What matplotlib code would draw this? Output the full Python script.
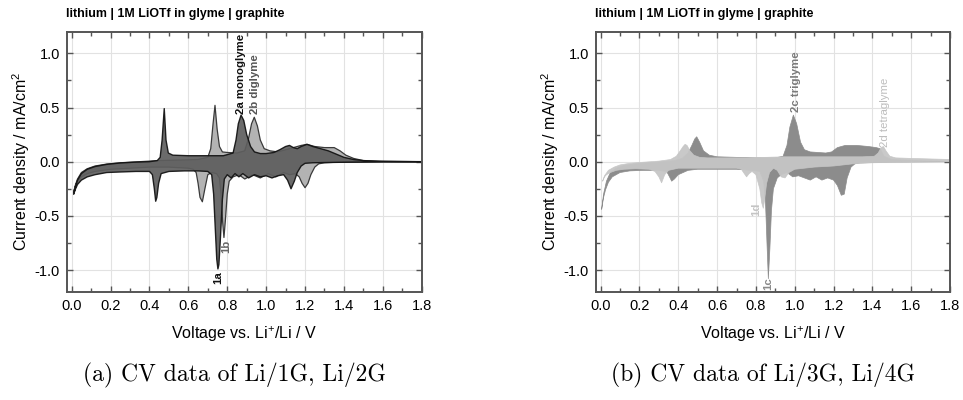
import matplotlib.pyplot as plt
from matplotlib.ticker import MultipleLocator

# --- CV data (V vs. Li+/Li, mA/cm2) ---
# monoglyme (1G): anodic / cathodic sweeps
g1_up_v = [0.01, 0.02, 0.03, 0.05, 0.08, 0.12, 0.18, 0.25, 0.32, 0.40, 0.44, 0.455, 0.465, 0.476, 0.485,
           0.497, 0.52, 0.60, 0.70, 0.78, 0.83, 0.845, 0.857, 0.871, 0.885, 0.90, 0.92, 0.94, 0.97, 1.00,
           1.04, 1.07, 1.10, 1.12, 1.14, 1.16, 1.18, 1.21, 1.24, 1.28, 1.32, 1.36, 1.40, 1.45, 1.50, 1.58,
           1.68, 1.80]
g1_up_i = [-0.30, -0.23, -0.17, -0.11, -0.07, -0.045, -0.025, -0.012, -0.005, 0.0, 0.01, 0.04, 0.20, 0.49,
           0.20, 0.08, 0.06, 0.055, 0.055, 0.055, 0.08, 0.20, 0.35, 0.43, 0.38, 0.25, 0.14, 0.09, 0.075, 0.075,
           0.085, 0.11, 0.14, 0.15, 0.13, 0.12, 0.14, 0.16, 0.14, 0.12, 0.10, 0.07, 0.04, 0.02, 0.01, 0.004,
           0.002, 0.0]
g1_dn_v = [1.80, 1.60, 1.40, 1.30, 1.24, 1.20, 1.18, 1.16, 1.145, 1.128, 1.11, 1.09, 1.06, 1.03, 1.00, 0.97,
           0.94, 0.91, 0.88, 0.86, 0.84, 0.82, 0.80, 0.785, 0.775, 0.765, 0.757, 0.752, 0.746, 0.738, 0.73,
           0.72, 0.70, 0.65, 0.58, 0.50, 0.46, 0.447, 0.438, 0.432, 0.425, 0.415, 0.40, 0.33, 0.25, 0.18,
           0.12, 0.08, 0.05, 0.03, 0.02, 0.01]
g1_dn_i = [0.0, -0.002, -0.005, -0.008, -0.01, -0.015, -0.04, -0.10, -0.18, -0.25, -0.17, -0.12, -0.13,
           -0.15, -0.13, -0.14, -0.12, -0.15, -0.11, -0.14, -0.11, -0.15, -0.12, -0.16, -0.35, -0.70, -0.95,
           -0.99, -0.90, -0.60, -0.30, -0.12, -0.09, -0.085, -0.085, -0.09, -0.11, -0.20, -0.33, -0.365,
           -0.25, -0.12, -0.09, -0.09, -0.095, -0.10, -0.12, -0.14, -0.17, -0.21, -0.25, -0.30]

# diglyme (2G)
g2_up_v = [0.01, 0.02, 0.03, 0.05, 0.08, 0.12, 0.18, 0.25, 0.35, 0.45, 0.55, 0.65, 0.70, 0.715, 0.727,
           0.737, 0.748, 0.76, 0.775, 0.80, 0.85, 0.89, 0.91, 0.925, 0.939, 0.955, 0.97, 0.99, 1.02, 1.06,
           1.10, 1.14, 1.18, 1.21, 1.25, 1.30, 1.35, 1.38, 1.41, 1.45, 1.50, 1.60, 1.80]
g2_up_i = [-0.28, -0.21, -0.16, -0.10, -0.065, -0.04, -0.022, -0.01, 0.0, 0.01, 0.015, 0.02, 0.04, 0.12,
           0.35, 0.52, 0.30, 0.14, 0.09, 0.085, 0.08, 0.10, 0.22, 0.35, 0.41, 0.33, 0.20, 0.12, 0.10, 0.09,
           0.11, 0.13, 0.15, 0.16, 0.14, 0.13, 0.13, 0.10, 0.06, 0.03, 0.01, 0.003, 0.0]
g2_dn_v = [1.80, 1.50, 1.35, 1.30, 1.27, 1.25, 1.23, 1.215, 1.20, 1.185, 1.17, 1.15, 1.12, 1.09, 1.05,
           1.01, 0.97, 0.93, 0.89, 0.86, 0.83, 0.81, 0.80, 0.79, 0.783, 0.776, 0.768, 0.76, 0.745, 0.72,
           0.70, 0.685, 0.672, 0.66, 0.65, 0.64, 0.625, 0.60, 0.50, 0.40, 0.30, 0.20, 0.12, 0.08, 0.05, 0.03,
           0.02, 0.01]
g2_dn_i = [0.0, -0.003, -0.006, -0.01, -0.02, -0.05, -0.12, -0.20, -0.24, -0.20, -0.14, -0.11, -0.12,
           -0.10, -0.14, -0.11, -0.15, -0.12, -0.16, -0.12, -0.14, -0.18, -0.30, -0.55, -0.70, -0.55, -0.30,
           -0.15, -0.11, -0.10, -0.12, -0.25, -0.37, -0.33, -0.20, -0.10, -0.07, -0.06, -0.05, -0.05, -0.06,
           -0.07, -0.09, -0.11, -0.14, -0.18, -0.22, -0.28]

# triglyme (3G)
g3_up_v = [0.005, 0.015, 0.03, 0.05, 0.08, 0.12, 0.18, 0.25, 0.32, 0.38, 0.42, 0.45, 0.47, 0.485, 0.495,
           0.51, 0.53, 0.56, 0.60, 0.70, 0.80, 0.90, 0.94, 0.96, 0.975, 0.993, 1.01, 1.03, 1.05, 1.08, 1.12,
           1.16, 1.19, 1.22, 1.26, 1.32, 1.38, 1.42, 1.44, 1.46, 1.50, 1.60, 1.80]
g3_up_i = [-0.44, -0.30, -0.18, -0.10, -0.06, -0.035, -0.02, -0.01, 0.0, 0.01, 0.03, 0.08, 0.15, 0.21,
           0.23, 0.18, 0.10, 0.06, 0.045, 0.04, 0.035, 0.035, 0.05, 0.15, 0.32, 0.43, 0.35, 0.18, 0.11, 0.09,
           0.085, 0.08, 0.09, 0.13, 0.15, 0.15, 0.14, 0.13, 0.12, 0.05, 0.02, 0.01, 0.0]
g3_dn_v = [1.80, 1.50, 1.40, 1.34, 1.31, 1.29, 1.27, 1.255, 1.24, 1.22, 1.20, 1.17, 1.14, 1.11, 1.08, 1.05,
           1.02, 0.99, 0.96, 0.93, 0.91, 0.89, 0.88, 0.872, 0.864, 0.857, 0.85, 0.84, 0.82, 0.78, 0.70, 0.60,
           0.50, 0.45, 0.40, 0.38, 0.366, 0.355, 0.34, 0.30, 0.22, 0.15, 0.10, 0.06, 0.04, 0.025, 0.015,
           0.005]
g3_dn_i = [0.0, -0.003, -0.006, -0.01, -0.02, -0.05, -0.15, -0.30, -0.31, -0.22, -0.17, -0.15, -0.17,
           -0.14, -0.17, -0.15, -0.13, -0.14, -0.10, -0.12, -0.15, -0.25, -0.45, -0.80, -1.08, -0.75, -0.40,
           -0.18, -0.09, -0.08, -0.07, -0.07, -0.07, -0.08, -0.12, -0.16, -0.18, -0.14, -0.09, -0.08, -0.08,
           -0.085, -0.10, -0.14, -0.19, -0.26, -0.33, -0.44]

# tetraglyme (4G)
g4_up_v = [0.01, 0.02, 0.04, 0.07, 0.10, 0.15, 0.22, 0.30, 0.36, 0.39, 0.41, 0.425, 0.435, 0.445, 0.46,
           0.48, 0.51, 0.55, 0.65, 0.75, 0.85, 0.95, 1.05, 1.15, 1.25, 1.35, 1.41, 1.43, 1.445, 1.457, 1.47,
           1.49, 1.52, 1.60, 1.70, 1.80]
g4_up_i = [-0.18, -0.13, -0.08, -0.05, -0.03, -0.015, -0.005, 0.005, 0.02, 0.05, 0.10, 0.14, 0.16, 0.15,
           0.10, 0.06, 0.04, 0.035, 0.035, 0.035, 0.04, 0.045, 0.045, 0.045, 0.045, 0.045, 0.05, 0.08, 0.13,
           0.14, 0.10, 0.05, 0.035, 0.03, 0.025, 0.02]
g4_dn_v = [1.80, 1.60, 1.40, 1.30, 1.20, 1.10, 1.00, 0.97, 0.95, 0.93, 0.91, 0.89, 0.87, 0.855, 0.845,
           0.838, 0.83, 0.82, 0.80, 0.78, 0.765, 0.752, 0.74, 0.725, 0.70, 0.60, 0.50, 0.40, 0.35, 0.33,
           0.314, 0.30, 0.28, 0.25, 0.18, 0.12, 0.08, 0.05, 0.03, 0.02, 0.01]
g4_dn_i = [0.0, -0.003, -0.01, -0.02, -0.04, -0.05, -0.07, -0.10, -0.15, -0.14, -0.08, -0.06, -0.10,
           -0.20, -0.35, -0.43, -0.38, -0.25, -0.12, -0.09, -0.11, -0.14, -0.11, -0.07, -0.06, -0.06, -0.06,
           -0.06, -0.08, -0.12, -0.195, -0.14, -0.09, -0.07, -0.065, -0.07, -0.08, -0.10, -0.12, -0.14, -0.18]

title_txt = 'lithium | 1M LiOTf in glyme | graphite'
captions = ['(a) CV data of Li/1G, Li/2G', '(b) CV data of Li/3G, Li/4G']

plt.rcParams['font.family'] = ['Liberation Sans', 'DejaVu Sans']
plt.rcParams['axes.unicode_minus'] = False

SPINE = '#555555'


def loop(ax, up_v, up_i, dn_v, dn_i, fc, ec, lw, alpha=1.0):
    ax.fill(up_v + dn_v, up_i + dn_i, facecolor=fc, edgecolor=ec, linewidth=lw,
            alpha=alpha, joinstyle='round')


def style(ax):
    ax.set_xlim(-0.024, 1.8)
    ax.set_ylim(-1.2, 1.2)
    ax.xaxis.set_major_locator(MultipleLocator(0.2))
    ax.xaxis.set_minor_locator(MultipleLocator(0.1))
    ax.yaxis.set_major_locator(MultipleLocator(0.5))
    ax.yaxis.set_minor_locator(MultipleLocator(0.25))
    ax.tick_params(which='both', direction='in', top=True, right=True, color=SPINE,
                   labelsize=10.5, pad=5)
    ax.tick_params(which='major', length=4.5, width=1.0)
    ax.tick_params(which='minor', length=3, width=1.0)
    ax.grid(True, which='major', color='#e2e2e2', linewidth=0.8)
    ax.set_axisbelow(True)
    for s in ax.spines.values():
        s.set_color(SPINE)
        s.set_linewidth(1.4)
    ax.set_xlabel('Voltage vs. Li$^{\\mathregular{+}}$/Li / V', fontsize=11.5)
    ax.set_ylabel('Current density / mA/cm$^{\\mathregular{2}}$', fontsize=11.5)
    ax.xaxis.set_label_coords(0.5, -0.125)
    ax.yaxis.set_label_coords(-0.10, 0.5)
    ax.text(-0.003, 1.068, title_txt, transform=ax.transAxes, fontsize=8.9,
            fontweight='bold', ha='left', va='center')


fig = plt.figure(figsize=(9.63, 4.0), dpi=100)
ax1 = fig.add_axes([0.0696, 0.2708, 0.3683, 0.65])
ax2 = fig.add_axes([0.6189, 0.2708, 0.3676, 0.65])

# left panel: 1G over 2G
loop(ax1, g2_up_v, g2_up_i, g2_dn_v, g2_dn_i, '#b3b3b3', '#3a3a3a', 0.9)
loop(ax1, g1_up_v, g1_up_i, g1_dn_v, g1_dn_i, '#5e5e5e', '#111111', 1.0, alpha=0.92)
style(ax1)
ann = dict(rotation=90, fontsize=8.2, fontweight='bold', ha='center')
ax1.text(0.871, 0.44, '2a monoglyme', va='bottom', color='#111111', **ann)
ax1.text(0.944, 0.44, '2b diglyme', va='bottom', color='#555555', **ann)
ax1.text(0.754, -1.015, '1a', va='top', color='#111111', **ann)
ax1.text(0.796, -0.72, '1b', va='top', color='#666666', **ann)

# right panel: 4G over 3G
loop(ax2, g3_up_v, g3_up_i, g3_dn_v, g3_dn_i, '#8c8c8c', '#8c8c8c', 0.5)
loop(ax2, g4_up_v, g4_up_i, g4_dn_v, g4_dn_i, '#c6c6c6', '#c6c6c6', 0.5, alpha=0.95)
style(ax2)
ax2.text(1.005, 0.455, '2c triglyme', va='bottom', color='#7a7a7a', **ann)
ax2.text(1.465, 0.14, '2d tetraglyme', va='bottom', color='#bdbdbd', rotation=90,
         fontsize=8.2, ha='center')
ax2.text(0.80, -0.38, '1d', va='top', color='#c4c4c4', **ann)
ax2.text(0.866, -1.07, '1c', va='top', color='#8a8a8a', **ann)

fig.text(0.2435, 0.0625, captions[0], family='cmr10', fontsize=17, ha='center', va='center')
fig.text(0.792, 0.0625, captions[1], family='cmr10', fontsize=17, ha='center', va='center')

fig.savefig('out.png', dpi=100)
